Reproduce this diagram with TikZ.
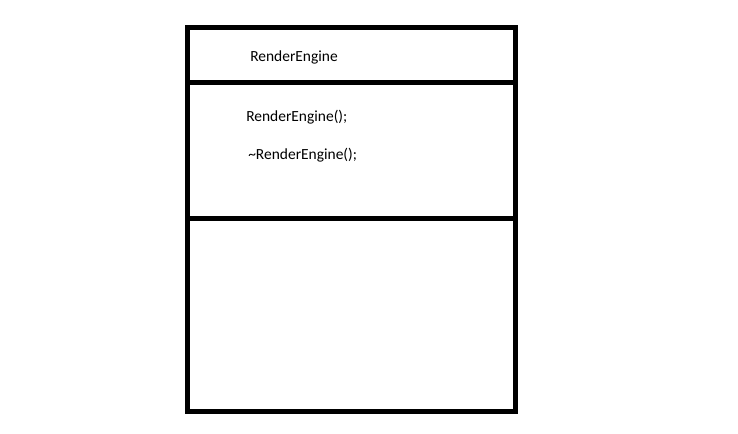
\documentclass[tikz,border=0pt]{standalone}
\usepackage{fontspec}
\setmainfont{Carlito}
\begin{document}
\begin{tikzpicture}[x=0.75pt,y=-0.75pt,
  frame/.style={draw=black,line width=3.9pt},
  lbl/.style={anchor=base west,inner sep=0pt,font=\fontsize{11.6pt}{14pt}\selectfont}]
\useasboundingbox (0,0) rectangle (738,434);
\fill[white] (0,0) rectangle (738,434);
\draw[frame] (187.5,27.5) rectangle (515.5,411.5);
\coordinate (d1l) at (187.5,82.5); \coordinate (d1r) at (515.5,82.5);
\coordinate (d2l) at (187.5,218.5); \coordinate (d2r) at (515.5,218.5);
\draw[frame] (d1l) -- (d1r);
\draw[frame] (d2l) -- (d2r);
\node[lbl] (name) at (250,62) {RenderEngine};
\node[lbl] (ctor) at (246,122) {RenderEngine();};
\node[lbl] (dtor) at (248,160) {\char"007E RenderEngine();};
\end{tikzpicture}
\end{document}
